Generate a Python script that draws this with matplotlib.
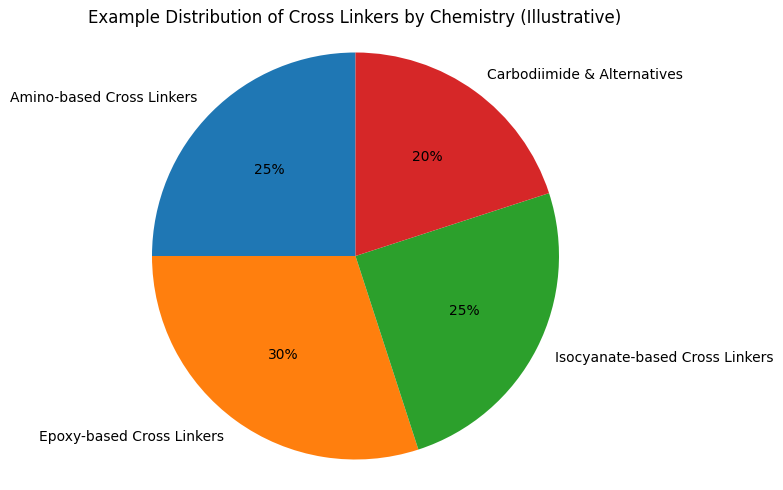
import matplotlib
matplotlib.use('Agg')
import matplotlib.pyplot as plt

# cross linker share by chemistry (illustrative)
labels = ['Amino-based Cross Linkers', 'Epoxy-based Cross Linkers',
          'Isocyanate-based Cross Linkers', 'Carbodiimide & Alternatives']
shares = [25, 30, 25, 20]
colors = ['#1f77b4', '#ff7f0e', '#2ca02c', '#d62728']

fig = plt.figure(figsize=(7.83, 4.9), dpi=100)
ax = fig.add_axes([0, 0, 1, 1])
ax.pie(shares, labels=labels, colors=colors, autopct='%1.0f%%', startangle=90)

# place pie: center px from top-left, radius px
W, H, cx, cy, r = 783, 490, 355.5, 256, 203.5
ax.set_aspect('auto')
ax.set_xlim(-cx / r, (W - cx) / r)
ax.set_ylim(-(H - cy) / r, cy / r)
ax.axis('off')

fig.text(355 / W, 1 - 18 / H, 'Example Distribution of Cross Linkers by Chemistry (Illustrative)',
         ha='center', va='center', fontsize=12)

fig.savefig('out.png', dpi=100)
